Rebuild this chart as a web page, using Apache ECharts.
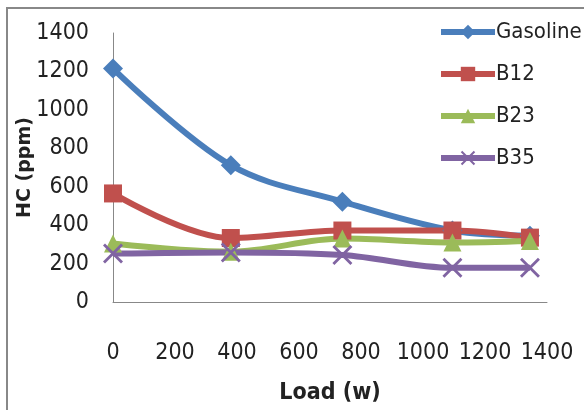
<!DOCTYPE html>
<html><head><meta charset="utf-8">
<script src="https://cdn.jsdelivr.net/npm/echarts@6/dist/echarts.min.js"></script>
<style>html,body{margin:0;padding:0;background:#fff}#c{width:584px;height:410px}</style>
</head><body><div id="c"></div>
<script>
const loads = [0, 380, 740, 1095, 1345];
const seriesNames = ['Gasoline', 'B12', 'B23', 'B35'];
const gasoline = [1215, 712, 522, 372, 345];
const b12 = [565, 333, 372, 372, 335];
const b23 = [305, 262, 330, 310, 318];
const b35 = [252, 258, 245, 178, 178];
const xTicks = [0, 200, 400, 600, 800, 1000, 1200, 1400];

const FONT = '"DejaVu Sans Condensed", "Liberation Sans", sans-serif';
const colors = ['#4A7EBB', '#C0504D', '#9BBB59', '#8064A2'];
const symbols = ['diamond', 'rect', 'triangle', 'path://M0,1L1,0L10,9L9,10ZM9,0L10,1L1,10L0,9Z'];
const sizes = [20, 18, 18, 20];
const values = [gasoline, b12, b23, b35];

const chart = echarts.init(document.getElementById('c'), null, {renderer: 'canvas'});
chart.setOption({
  animation: false,
  backgroundColor: '#fff',
  graphic: [{type: 'rect', shape: {x: 7, y: 8, width: 590, height: 420}, style: {fill: 'none', stroke: '#888', lineWidth: 2}}],
  grid: {left: 113, right: 37, top: 33, bottom: 108},
  legend: {
    orient: 'vertical', left: 433, top: 16, itemWidth: 54, itemHeight: 18, itemGap: 20,
    lineStyle: {width: 6},
    textStyle: {fontFamily: FONT, fontSize: 22, color: '#222', padding: [0,0,0,-4]},
    data: seriesNames
  },
  xAxis: {
    type: 'value', min: 0, max: 1400, interval: 200,
    axisLine: {lineStyle: {color: '#888', width: 1}}, axisTick: {show: false}, splitLine: {show: false},
    axisLabel: {margin: 40, fontFamily: FONT, fontSize: 23, color: '#222',
      formatter: v => xTicks.includes(v) ? String(v) : ''},
    name: 'Load (w)', nameLocation: 'middle', nameGap: 80,
    nameTextStyle: {fontFamily: FONT, fontSize: 23, fontWeight: 'bold', color: '#222'}
  },
  yAxis: {
    type: 'value', min: 0, max: 1400, interval: 200,
    axisLine: {show: true, lineStyle: {color: '#888', width: 1}}, axisTick: {show: false}, splitLine: {show: false},
    axisLabel: {margin: 24, fontFamily: FONT, fontSize: 23, color: '#222', formatter: v => String(v)},
    name: 'HC (ppm)', nameLocation: 'middle', nameGap: 78, nameMoveOverlap: false,
    nameTextStyle: {fontFamily: '"DejaVu Sans", sans-serif', fontSize: 19, fontWeight: 'bold', color: '#222'}
  },
  series: seriesNames.map((n, i) => ({
    name: n, type: 'line', smooth: 0.35,
    data: loads.map((x, j) => [x, values[i][j]]),
    symbol: symbols[i], symbolSize: sizes[i],
    lineStyle: {color: colors[i], width: 6},
    itemStyle: {color: colors[i]}
  }))
});
</script></body></html>
